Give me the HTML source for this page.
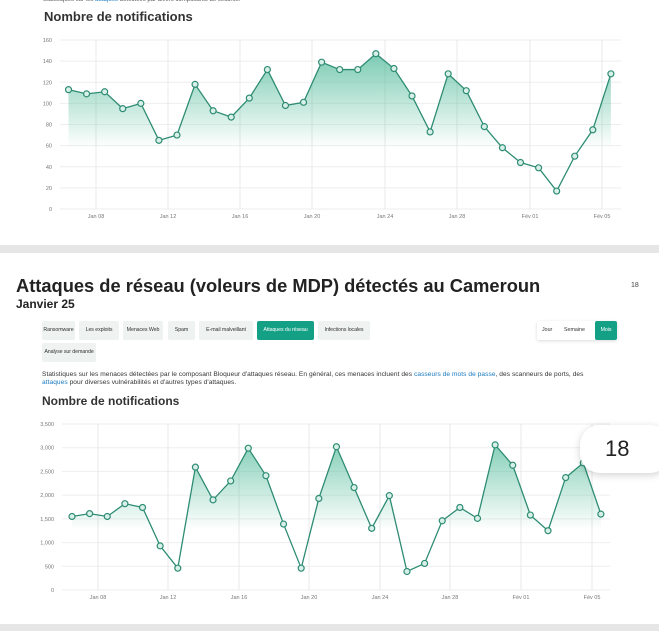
<!DOCTYPE html>
<html><head><meta charset="utf-8"><style>
body{margin:0;width:659px;height:631px;overflow:hidden;background:#fff;font-family:"Liberation Sans",sans-serif;position:relative}
.a{position:absolute}
.tab{position:absolute;top:321px;height:19px;background:#eef3f1;font-size:5.3px;color:#333;line-height:19px;text-align:center;border-radius:2px;white-space:nowrap;letter-spacing:-0.1px}
</style></head><body>
<div class="a" style="left:43px;top:-3px;font-size:6px;color:#555">Statistiques sur les <span style="color:#1a7ac0">attaques</span> détectées par divers composants de sécurité.</div>
<div class="a" style="left:44px;top:9px;font-size:13px;font-weight:bold;color:#333">Nombre de notifications</div>
<div class="a" style="left:0;top:245px;width:659px;height:8px;background:#e6e6e6"></div>
<div class="a" style="left:16px;top:275px;font-size:18.3px;font-weight:bold;color:#222;white-space:nowrap">Attaques de réseau (voleurs de MDP) détectés au Cameroun</div>
<div class="a" style="left:16px;top:297px;font-size:12px;font-weight:bold;color:#222">Janvier 25</div>
<div class="a" style="left:631px;top:282px;font-size:7px;color:#444">18</div>
<div class="tab" style="left:42px;width:33px">Ransomware</div>
<div class="tab" style="left:79px;width:40px">Les exploits</div>
<div class="tab" style="left:123px;width:40px">Menaces Web</div>
<div class="tab" style="left:168px;width:27px">Spam</div>
<div class="tab" style="left:199px;width:54px">E-mail malveillant</div>
<div class="tab" style="left:257px;width:57px;background:#14a085;color:#fff">Attaques du réseau</div>
<div class="tab" style="left:318px;width:52px">Infections locales</div>
<div class="tab" style="left:42px;top:343px;width:54px">Analyse sur demande</div>
<div class="a" style="left:537px;top:321px;width:80px;height:19px;background:#fff;box-shadow:0 1px 3px rgba(0,0,0,.15);border-radius:2px"></div>
<div class="a" style="left:542px;top:321px;font-size:5.3px;line-height:19px;color:#333">Jour</div>
<div class="a" style="left:564px;top:321px;font-size:5.3px;line-height:19px;color:#333">Semaine</div>
<div class="tab" style="left:595px;width:22px;background:#14a085;color:#fff">Mois</div>
<div class="a" style="left:42px;top:371px;font-size:6.6px;color:#333;line-height:7.5px;width:590px;white-space:nowrap;letter-spacing:0.05px">Statistiques sur les menaces détectées par le composant Bloqueur d'attaques réseau. En général, ces menaces incluent des <span style="color:#1a7ac0">casseurs de mots de passe</span>, des scanneurs de ports, des<br><span style="color:#1a7ac0">attaques</span> pour diverses vulnérabilités et d'autres types d'attaques.</div>
<div class="a" style="left:42px;top:394px;font-size:12px;font-weight:bold;color:#333">Nombre de notifications</div>
<div class="a" style="left:0;top:624px;width:659px;height:7px;background:#e6e6e6"></div>
<svg class="a" style="left:0;top:0" width="659" height="631" id="s"></svg>
<div class="a" style="left:580px;top:425px;width:90px;height:48px;background:#fff;border-radius:20px;box-shadow:0 2px 8px rgba(0,0,0,.18);font-size:22px;color:#222;line-height:48px;padding-left:25px;box-sizing:border-box">18</div>
<script>
const s=document.getElementById('s');let h='';let gid=0;
function chart(o){
 const{x0,x1,yT,yB,max,step,vals,px0,pdx,ticks,tx,fmt,fillTo}=o;
 gid++;
 h+=`<defs><linearGradient id="g${gid}" gradientUnits="userSpaceOnUse" x1="0" y1="${yT}" x2="0" y2="${fillTo}"><stop offset="0" stop-color="#4fba98" stop-opacity=".85"/><stop offset="1" stop-color="#4fba98" stop-opacity="0"/></linearGradient></defs>`;
 for(let v=0;v<=max;v+=step){const y=yB-(v/max)*(yB-yT);h+=`<line x1="${x0}" x2="${x1}" y1="${y}" y2="${y}" stroke="#eee" stroke-width="1"/><text x="${x0-8}" y="${y+2}" font-size="5.5" fill="#777" text-anchor="end">${fmt(v)}</text>`;}
 ticks.forEach((t,i)=>{h+=`<line x1="${tx[i]}" x2="${tx[i]}" y1="${yT}" y2="${yB}" stroke="#e8e8e8"/><text x="${tx[i]}" y="${yB+9}" font-size="5.5" fill="#777" text-anchor="middle">${t}</text>`;});
 const pts=vals.map((v,i)=>[px0+i*pdx,yB-(v/max)*(yB-yT)]);
 const d=pts.map(p=>p.join(',')).join(' ');
 h+=`<polygon points="${d} ${pts[pts.length-1][0]},${fillTo} ${pts[0][0]},${fillTo}" fill="url(#g${gid})" clip-path="url(#c${gid})"/>`;
 h+=`<clipPath id="c${gid}"><rect x="0" y="0" width="659" height="${fillTo}"/></clipPath>`;
 h+=`<polyline points="${d}" fill="none" stroke="#2e8c73" stroke-width="1.3"/>`;
 pts.forEach(p=>h+=`<circle cx="${p[0]}" cy="${p[1]}" r="3" fill="#d8f0e8" stroke="#2e8c73" stroke-width="1.2"/>`);
}
const T=['Jan 08','Jan 12','Jan 16','Jan 20','Jan 24','Jan 28','Fév 01','Fév 05'];
chart({x0:60,x1:621,yT:40,yB:209,max:160,step:20,vals:[113,109,111,95,100,65,70,118,93,87,105,132,98,101,139,132,132,147,133,107,73,128,112,78,58,44,39,17,50,75,128],px0:68.5,pdx:18.08,ticks:T,tx:[96,168,240,312,385,457,530,602],fmt:v=>v,fillTo:148});
chart({x0:62,x1:610,yT:424,yB:590,max:3500,step:500,vals:[1550,1610,1550,1820,1740,930,460,2590,1900,2300,2990,2410,1390,460,1930,3020,2160,1300,1990,390,560,1460,1740,1510,3060,2630,1580,1250,2370,2680,1600],px0:72,pdx:17.63,ticks:T,tx:[98,168,239,309,380,450,521,592],fmt:v=>v?v.toLocaleString('en-US'):0,fillTo:530});
s.innerHTML=h;
</script>
</body></html>
